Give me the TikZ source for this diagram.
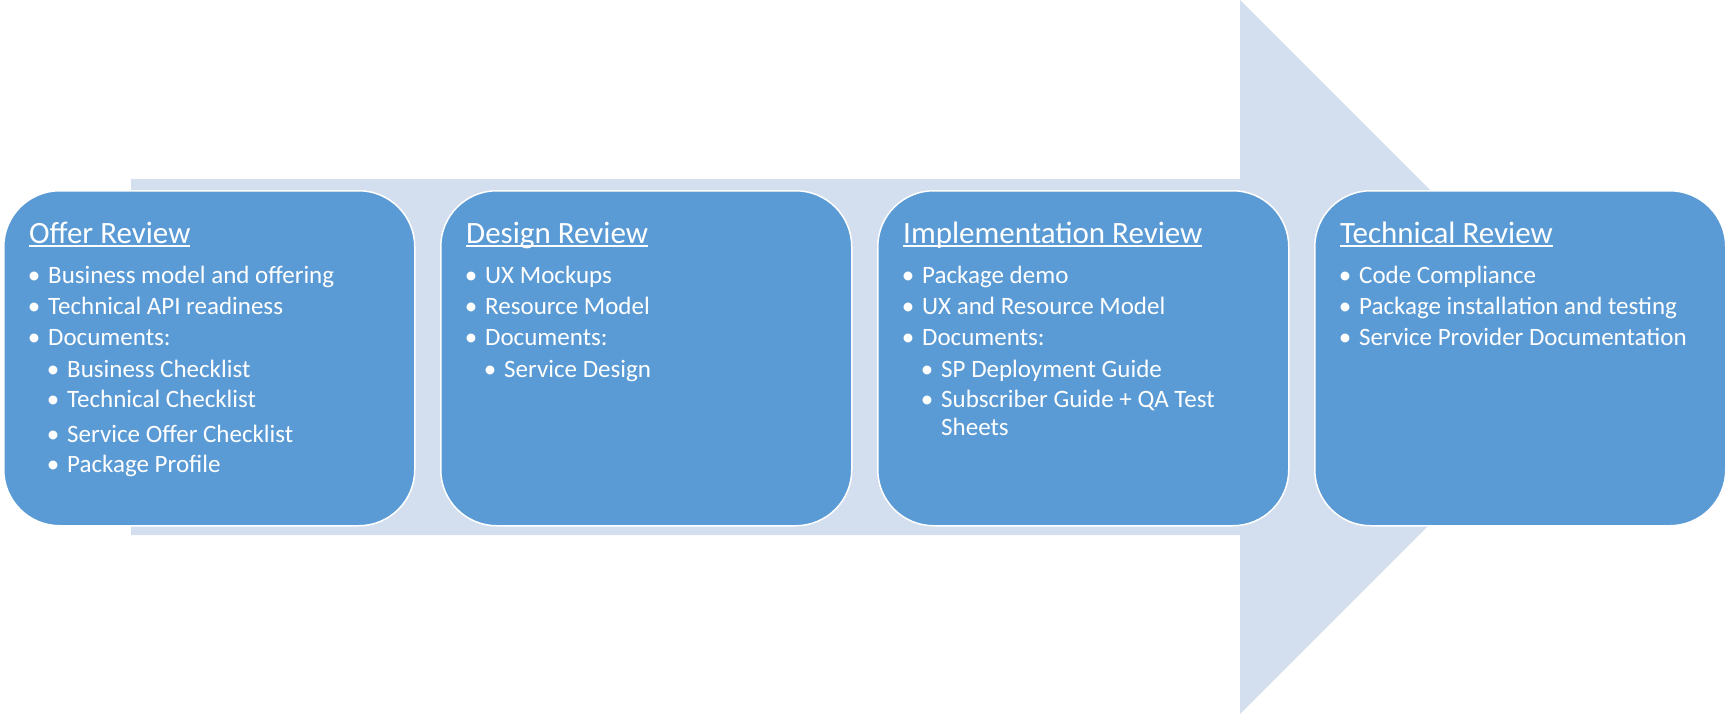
\documentclass[tikz,border=0pt]{standalone}
\usepackage{fontspec}
\setmainfont{Carlito}
\definecolor{boxblue}{RGB}{91,155,213}
\definecolor{arrowblue}{RGB}{211,222,239}
\newcommand{\myul}[1]{\setbox0=\hbox{#1}\rlap{\rule[-4pt]{\wd0}{2pt}}\box0}
\tikzset{
  stagebox/.style={draw=white, line width=1.5pt, fill=boxblue, rounded corners=56pt,
    minimum width=411pt, minimum height=335pt, anchor=north west, inner sep=0pt},
  ttl/.style={anchor=base west, inner sep=0pt, text=white, font=\fontsize{31}{37}\selectfont},
  lvlone/.style={anchor=base west, inner sep=0pt, text=white, font=\fontsize{25}{30}\selectfont},
  cont/.style={anchor=base west, inner sep=0pt, text=white, font=\fontsize{25}{30}\selectfont},
}
\newcommand{\bul}{\makebox[0pt][c]{•}\hspace{14pt}}
\begin{document}
\begin{tikzpicture}[x=1pt,y=1pt]
\useasboundingbox (0,0) rectangle (1728,-715);
% big arrow
\fill[arrowblue] (131,-179) -- (1240,-179) -- (1240,0) -- (1597,-357) -- (1240,-714) -- (1240,-535) -- (131,-535) -- cycle;
% boxes
\node[stagebox] (b1) at (3,-190) {};
\node[stagebox] (b2) at (440,-190) {};
\node[stagebox] (b3) at (877,-190) {};
\node[stagebox] (b4) at (1314,-190) {};
% box 1
\node[ttl] (b1t) at (29,-243) {\myul{Offer Review}};
\node[lvlone] (b1a) at (34,-283) {\bul Business model and offering};
\node[lvlone] (b1b) at (34,-314) {\bul Technical API readiness};
\node[lvlone] (b1c) at (34,-345) {\bul Documents:};
\node[lvlone] (b1d) at (53,-377) {\bul Business Checklist};
\node[lvlone] (b1e) at (53,-407) {\bul Technical Checklist};
\node[lvlone] (b1f) at (53,-442) {\bul Service Offer Checklist};
\node[lvlone] (b1g) at (53,-472) {\bul Package Profile};
% box 2
\node[ttl] (b2t) at (466,-243) {\myul{Design Review}};
\node[lvlone] (b2a) at (471,-283) {\bul UX Mockups};
\node[lvlone] (b2b) at (471,-314) {\bul Resource Model};
\node[lvlone] (b2c) at (471,-345) {\bul Documents:};
\node[lvlone] (b2d) at (490,-377) {\bul Service Design};
% box 3
\node[ttl] (b3t) at (903,-243) {\myul{Implementation Review}};
\node[lvlone] (b3a) at (908,-283) {\bul Package demo};
\node[lvlone] (b3b) at (908,-314) {\bul UX and Resource Model};
\node[lvlone] (b3c) at (908,-345) {\bul Documents:};
\node[lvlone] (b3d) at (927,-377) {\bul SP Deployment Guide};
\node[lvlone] (b3e) at (927,-407) {\bul Subscriber Guide + QA Test};
\node[cont] (b3f) at (941,-435) {Sheets};
% box 4
\node[ttl] (b4t) at (1340,-243) {\myul{Technical Review}};
\node[lvlone] (b4a) at (1345,-283) {\bul Code Compliance};
\node[lvlone] (b4b) at (1345,-314) {\bul Package installation and testing};
\node[lvlone] (b4c) at (1345,-345) {\bul Service Provider Documentation};
\end{tikzpicture}
\end{document}
